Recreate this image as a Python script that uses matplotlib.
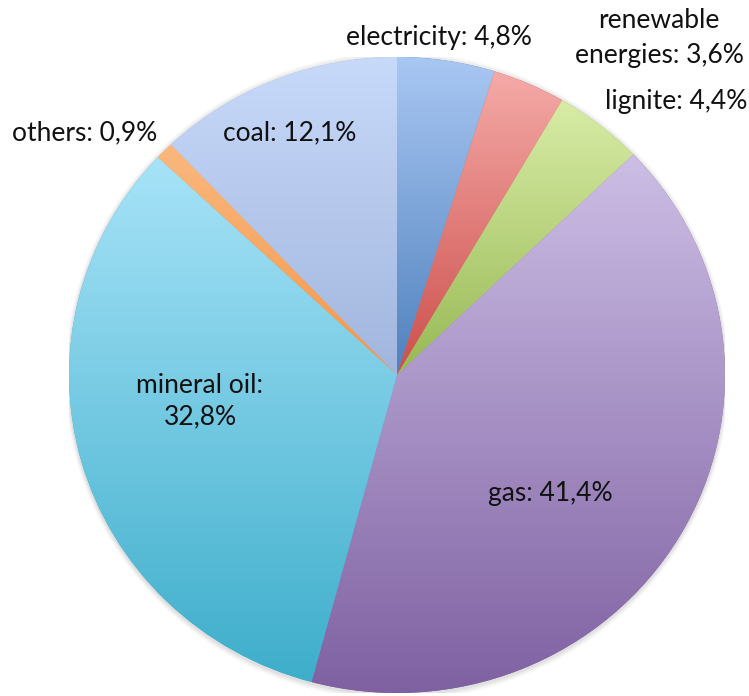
import numpy as np
import matplotlib
matplotlib.use("Agg")
import matplotlib.pyplot as plt
from matplotlib.colors import LinearSegmentedColormap
from matplotlib.patches import Ellipse

categories = ["electricity", "renewable energies", "lignite", "gas", "mineral oil", "others", "coal"]
values = [4.8, 3.6, 4.4, 41.4, 32.8, 0.9, 12.1]
label_texts = ["electricity: 4,8%", "renewable\nenergies: 3,6%", "lignite: 4,4%", "gas: 41,4%",
               "mineral oil:\n32,8%", "others: 0,9%", "coal: 12,1%"]
top_colors = ["#a9c7f3", "#f5aaa7", "#d8eca6", "#ccbee5", "#a7e3f8", "#fab87e", "#c7dafa"]
bottom_colors = ["#4f81bd", "#cc4f4c", "#98b955", "#7f61a2", "#3eaecb", "#f5964a", "#a2b5dd"]

# label positions in pixels (x, y from top) and line spacing
label_px = [(439, 37), (659, 38), (676, 101), (550, 493), (200, 401), (85, 133), (290, 133)]
label_ls = [1.25, 1.5, 1.25, 1.25, 1.33, 1.25, 1.25]

W, H = 749, 696
fig = plt.figure(figsize=(W / 100, H / 100), dpi=100)
cx, cy, rx, ry = 397, 375, 328, 318
ax = fig.add_axes([(cx - rx) / W, (H - cy - ry) / H, 2 * rx / W, 2 * ry / H])
ax.axis("off")

# subtle shadow
for i, a in enumerate([0.05, 0.04, 0.03]):
    ax.add_patch(Ellipse((0.0, -0.004), 2 + 0.008 * (i + 1), 2 + 0.012 * (i + 1),
                         facecolor="#000000", alpha=a, edgecolor="none", zorder=0))

wedges, _ = ax.pie(values, startangle=90, counterclock=False, radius=1, center=(0, 0),
                   wedgeprops=dict(linewidth=0, edgecolor="none"), frame=False)

grad = np.linspace(0, 1, 256).reshape(-1, 1)
for w, ct, cb in zip(wedges, top_colors, bottom_colors):
    w.set_facecolor(cb)
    w.set_zorder(1)
    ext = w.get_path().get_extents(w.get_patch_transform())
    cmap = LinearSegmentedColormap.from_list("g", [ct, cb])
    im = ax.imshow(grad, cmap=cmap, aspect="auto", origin="upper",
                   extent=[ext.x0, ext.x1, ext.y0, ext.y1], zorder=2, interpolation="bilinear")
    im.set_clip_path(w)

ax.set_xlim(-1, 1)
ax.set_ylim(-1, 1)
ax.set_aspect("auto")

for txt, (px, py), ls in zip(label_texts, label_px, label_ls):
    fig.text(px / W, 1 - py / H, txt, ha="center", va="center", fontsize=19,
             family="Lato", color="#111111", linespacing=ls)

fig.savefig("out.png", dpi=100)
